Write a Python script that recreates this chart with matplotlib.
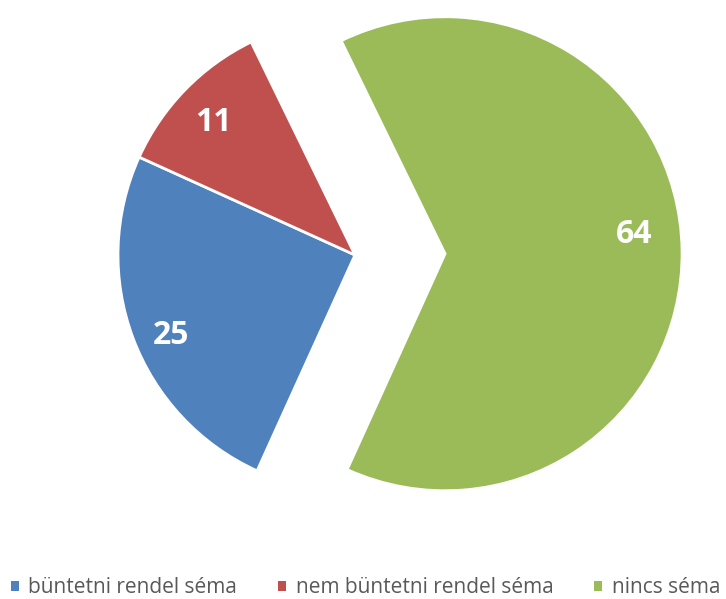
import matplotlib.pyplot as plt
from matplotlib.patches import Patch

plt.rcParams['font.family'] = ['Open Sans', 'DejaVu Sans']

labels = ['büntetni rendel séma', 'nem büntetni rendel séma', 'nincs séma']
values = [25, 11, 64]
colors = ['#4F81BD', '#C0504D', '#9BBB59']
explode = [0, 0, 0.38]

fig = plt.figure(figsize=(7.26, 5.99), dpi=100)
ax = fig.add_axes([0, 0, 1, 1])

R = 237.0  # pixels per unit radius
wedges, texts, autotexts = ax.pie(
    values, colors=colors, explode=explode, radius=1,
    startangle=245.6, counterclock=False,
    autopct=lambda p: '%d' % round(p), pctdistance=0.82,
    wedgeprops=dict(edgecolor='white', linewidth=2),
    textprops=dict(color='white', fontsize=23, fontweight='bold'))

# nudge labels (pixels) to where Excel put them
nudges = [(-2, -12), (-2, -3), (-5, 17)]
for t, (dx, dy) in zip(autotexts, nudges):
    x, y = t.get_position()
    t.set_position((x + dx / R, y + dy / R))

ax.set_aspect('auto')
ax.set_xlim(-355 / R, (726 - 355) / R)
ax.set_ylim(-(599 - 255) / R, 255 / R)
ax.axis('off')

handles = [Patch(facecolor=c, edgecolor='none') for c in colors]
leg = fig.legend(handles, labels, loc='lower left', ncol=3,
                 bbox_to_anchor=(-8 / 726, -0.03), frameon=False,
                 fontsize=15, handlelength=0.4, handleheight=0.4,
                 handletextpad=0.45, columnspacing=1.95,
                 borderaxespad=0.5)
for t in leg.get_texts():
    t.set_color('#595959')

fig.savefig('out.png', dpi=100)
